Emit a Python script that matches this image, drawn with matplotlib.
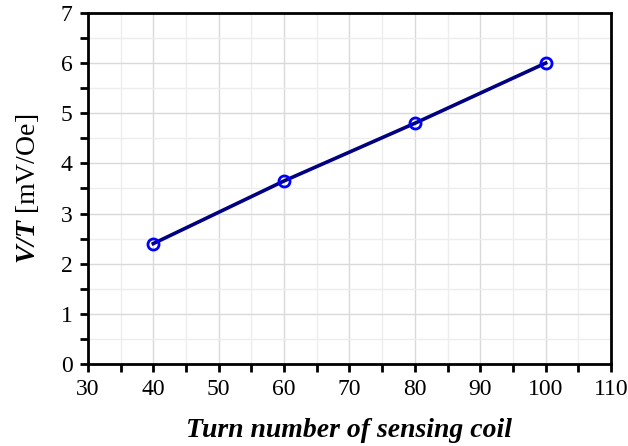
import numpy as np
import matplotlib.pyplot as plt
from matplotlib.ticker import MultipleLocator

turns = [40, 60, 80, 100]
sensitivity = [2.4, 3.65, 4.8, 6.0]

plt.rcParams['font.family'] = ['Liberation Serif', 'DejaVu Serif']
plt.rcParams['mathtext.fontset'] = 'custom'
plt.rcParams['mathtext.rm'] = 'Liberation Serif'
plt.rcParams['mathtext.it'] = 'Liberation Serif:italic'
plt.rcParams['mathtext.bf'] = 'Liberation Serif:bold'
plt.rcParams['mathtext.bfit'] = 'Liberation Serif:bold:italic'

fig = plt.figure(figsize=(6.28, 4.46), dpi=100)
ax = fig.add_axes([0.140, 0.184, 0.833, 0.787])

ax.plot(turns, sensitivity, color='#000080', linewidth=2.6, zorder=3)
ax.plot(turns, sensitivity, linestyle='none', marker='o', markersize=8,
        markerfacecolor='none', markeredgecolor='#0000ff', markeredgewidth=2.0, zorder=4)

ax.set_xlim(30, 110)
ax.set_ylim(0, 7)
ax.xaxis.set_major_locator(MultipleLocator(10))
ax.xaxis.set_minor_locator(MultipleLocator(5))
ax.yaxis.set_major_locator(MultipleLocator(1))
ax.yaxis.set_minor_locator(MultipleLocator(0.5))

ax.grid(which='major', color='#d9d9d9', linewidth=1.0)
ax.grid(which='minor', color='#ededed', linewidth=1.0)
ax.set_axisbelow(True)

for s in ax.spines.values():
    s.set_linewidth(2.0)

ax.tick_params(which='both', direction='out', width=2.0, top=False, right=False)
ax.tick_params(which='major', length=6, labelsize=17, pad=5)
ax.tick_params(which='minor', length=6)

ax.set_xlabel('Turn number of sensing coil', fontsize=20, fontweight='bold',
              fontstyle='italic', labelpad=13)
ax.set_ylabel(r'$\mathbfit{V/T}$ [mV/Oe]', fontsize=20, labelpad=14)

plt.savefig('out.png', dpi=100)
plt.close()
